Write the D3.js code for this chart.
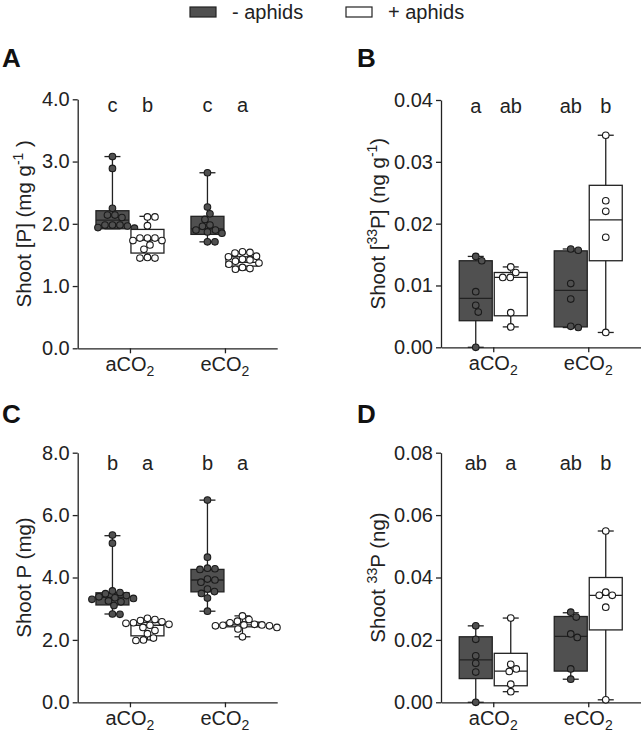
<!DOCTYPE html>
<html><head><meta charset="utf-8">
<script src="https://cdn.jsdelivr.net/npm/d3@7"></script>
<style>body{margin:0;background:#fff} svg{display:block}</style>
</head><body><svg id="c" width="644" height="736"></svg>
<script>
const categories = ["aCO2", "eCO2"];
const treatments = ["- aphids", "+ aphids"];
// group order in each panel: aCO2 -aphids, aCO2 +aphids, eCO2 -aphids, eCO2 +aphids
// box stats: [min, q1, median, q3, max]
const A_box = [[1.92,1.92,2.06,2.21,3.08],[1.45,1.53,1.74,1.91,2.12],[1.71,1.83,1.92,2.12,2.82],[1.26,1.32,1.38,1.47,1.55]];
const A_pts = [
  [3.08,2.89,2.25,2.14,2.14,2.10,1.98,1.98,1.98,1.965,1.94,1.93],
  [2.11,2.11,1.97,1.77,1.77,1.77,1.73,1.73,1.66,1.59,1.46,1.45,1.45],
  [2.82,2.27,2.16,2.07,1.98,1.96,1.90,1.90,1.87,1.85,1.71,1.71],
  [1.55,1.54,1.53,1.48,1.47,1.43,1.42,1.40,1.37,1.35,1.30,1.28,1.27]];
const A_ticks = [0, 1, 2, 3, 4];
const A_letters = ["c", "b", "c", "a"];

const B_box = [[0.0,0.0043,0.0079,0.0140,0.0147],[0.0033,0.0051,0.0113,0.0121,0.0130],[0.0032,0.0033,0.0092,0.0156,0.0159],[0.0024,0.0140,0.0206,0.0262,0.0343]];
const B_pts = [
  [0.0147,0.0140,0.0090,0.0068,0.0057,0.0],
  [0.0130,0.0121,0.0113,0.0113,0.0056,0.0033],
  [0.0159,0.0157,0.0103,0.0078,0.0034,0.0032],
  [0.0343,0.0237,0.0220,0.0178,0.0024]];
const B_ticks = [0, 0.01, 0.02, 0.03, 0.04];
const B_letters = ["a", "ab", "ab", "b"];

const C_box = [[2.83,3.12,3.36,3.51,5.34],[2.00,2.13,2.47,2.56,2.69],[2.92,3.54,3.92,4.26,6.48],[2.10,2.42,2.48,2.57,2.77]];
const C_pts = [
  [5.36,5.10,3.57,3.52,3.48,3.42,3.38,3.35,3.33,3.30,3.25,3.22,3.10,2.83,2.82],
  [2.69,2.65,2.62,2.58,2.55,2.53,2.50,2.47,2.40,2.30,2.20,2.06,2.00,1.98],
  [6.48,4.65,4.30,4.28,4.26,3.95,3.92,3.85,3.63,3.55,3.49,3.34,2.92],
  [2.77,2.65,2.60,2.55,2.50,2.48,2.48,2.47,2.45,2.45,2.40,2.35,2.10]];
const C_ticks = [0, 2, 4, 6, 8];
const C_letters = ["b", "a", "b", "a"];

const D_box = [[0.0,0.0076,0.0136,0.0210,0.0245],[0.0034,0.0053,0.0100,0.0157,0.0270],[0.0074,0.0100,0.0211,0.0275,0.0287],[0.0008,0.0232,0.0343,0.0400,0.0549]];
const D_pts = [
  [0.0245,0.0202,0.0149,0.0125,0.0097,0.0],
  [0.0270,0.0122,0.0107,0.0099,0.0058,0.0034],
  [0.0289,0.0273,0.0219,0.0208,0.0107,0.0074],
  [0.0549,0.0353,0.0343,0.0343,0.0305,0.0008]];
const D_ticks = [0, 0.02, 0.04, 0.06, 0.08];
const D_letters = ["ab", "a", "ab", "b"];

const A_label = [["Shoot [P] (mg g",0],["-1",1],[" )",0]];
const B_label = [["Shoot [",0],["33",1],["P] (ng g",0],["-1",1],[")",0]];
const C_label = [["Shoot P (mg)",0]];
const D_label = [["Shoot ",0],["33",1],["P (ng)",0]];

const FONT = "'Liberation Sans', Arial, Helvetica, sans-serif";
const INK = "#222";
const DARK = "#505050";
const fills = [DARK, "#ffffff"];

const svg = d3.select("#c");

// legend
const leg = svg.append("g");
[[190, 232], [346, 388]].forEach((p, i) => {
  leg.append("rect").attr("x", p[0]).attr("y", 7).attr("width", 26).attr("height", 10)
    .attr("fill", fills[i]).attr("stroke", INK).attr("stroke-width", 1.2);
  leg.append("text").attr("x", p[1]).attr("y", 18.5).attr("font-family", FONT)
    .attr("font-size", 20).attr("fill", INK).text(treatments[i]);
});

const panels = [
  {tag:"A", tx:2,   ty:66.5, x0:77.7, top:99.3,  bot:348.3, box:A_box, pts:A_pts, ticks:A_ticks, fmt:".1f", letters:A_letters, label:A_label, lab:47, letDy:13},
  {tag:"B", tx:357, ty:66.5, x0:441,  top:100,   bot:347.3, box:B_box, pts:B_pts, ticks:B_ticks, fmt:".2f", letters:B_letters, label:B_label, lab:56, letDy:13},
  {tag:"C", tx:2,   ty:423,  x0:77.7, top:452.7, bot:702.3, box:C_box, pts:C_pts, ticks:C_ticks, fmt:".1f", letters:C_letters, label:C_label, lab:47, letDy:17},
  {tag:"D", tx:357, ty:423,  x0:441,  top:452.7, bot:702.3, box:D_box, pts:D_pts, ticks:D_ticks, fmt:".2f", letters:D_letters, label:D_label, lab:56, letDy:17}
];

const R = 3.3, OFF = 17.5, BW = 33, CAP = 8;

function swarm(vals, y, cx) {
  const idx = vals.map((v, i) => i).sort((a, b) => vals[b] - vals[a]);
  const placed = [];
  const minD = 2 * R + 0.6;
  idx.forEach(i => {
    const py = y(vals[i]);
    let chosen = null;
    for (let k = 0; k < 200 && chosen === null; k++) {
      const cands = k === 0 ? [0] : [k * 0.5, -k * 0.5];
      for (const o of cands) {
        const px = cx + o;
        if (placed.every(p => Math.hypot(p.x - px, p.y - py) >= minD)) { chosen = px; break; }
      }
    }
    placed.push({x: chosen, y: py, v: vals[i]});
  });
  return placed;
}

panels.forEach(P => {
  const g = svg.append("g");
  g.append("text").attr("x", P.tx).attr("y", P.ty).attr("font-family", FONT)
    .attr("font-size", 26).attr("font-weight", "bold").attr("fill", "#111").text(P.tag);

  const y = d3.scaleLinear().domain([P.ticks[0], P.ticks[P.ticks.length - 1]]).range([P.bot, P.top]);
  const x = d3.scalePoint().domain(categories).range([P.x0, P.x0 + 199.5]).padding(0.55);

  const ya = g.append("g").attr("transform", `translate(${P.x0},0)`)
    .call(d3.axisLeft(y).tickValues(P.ticks).tickFormat(d3.format(P.fmt)).tickSize(5).tickPadding(3).tickSizeOuter(0));
  const xa = g.append("g").attr("transform", `translate(0,${P.bot})`)
    .call(d3.axisBottom(x).tickSize(5).tickFormat("").tickSizeOuter(0));
  [ya, xa].forEach(a => {
    a.selectAll("path,line").attr("stroke", INK).attr("stroke-width", 1.3);
    a.selectAll("text").attr("font-family", FONT).attr("font-size", 20).attr("fill", INK);
  });

  categories.forEach(c => {
    const t = g.append("text").attr("x", x(c)).attr("y", P.bot + 23).attr("text-anchor", "middle")
      .attr("font-family", FONT).attr("font-size", 20).attr("fill", INK);
    t.append("tspan").text(c.slice(0, -1));
    t.append("tspan").attr("font-size", 14).attr("dy", 5).text(c.slice(-1));
  });

  const cy = (P.top + P.bot) / 2;
  const lt = g.append("text").attr("transform", `translate(${P.x0 - P.lab},${cy}) rotate(-90)`)
    .attr("text-anchor", "middle").attr("font-family", FONT).attr("font-size", 20.5).attr("fill", INK);
  let shifted = false;
  P.label.forEach(([s, sup]) => {
    const ts = lt.append("tspan").text(s);
    if (sup) { ts.attr("font-size", 14).attr("dy", -8); shifted = true; }
    else if (shifted) { ts.attr("dy", 8); shifted = false; }
  });

  P.box.forEach((b, gi) => {
    const cat = categories[Math.floor(gi / 2)];
    const tr = gi % 2;
    const cx = x(cat) + (tr === 0 ? -OFF : OFF);
    const [mn, q1, md, q3, mx] = b;
    const bg = g.append("g");
    bg.append("line").attr("x1", cx).attr("x2", cx).attr("y1", y(mn)).attr("y2", y(mx))
      .attr("stroke", INK).attr("stroke-width", 1.3);
    [mn, mx].forEach(v => bg.append("line").attr("x1", cx - CAP).attr("x2", cx + CAP)
      .attr("y1", y(v)).attr("y2", y(v)).attr("stroke", INK).attr("stroke-width", 1.3));
    bg.append("rect").attr("x", cx - BW / 2).attr("width", BW).attr("y", y(q3)).attr("height", y(q1) - y(q3))
      .attr("fill", fills[tr]).attr("stroke", INK).attr("stroke-width", 1.3);
    bg.append("line").attr("x1", cx - BW / 2).attr("x2", cx + BW / 2).attr("y1", y(md)).attr("y2", y(md))
      .attr("stroke", INK).attr("stroke-width", 1.3);

    const pts = swarm(P.pts[gi], y, cx);
    bg.selectAll("circle").data(pts).join("circle")
      .attr("cx", d => d.x).attr("cy", d => d.y).attr("r", R)
      .attr("fill", fills[tr]).attr("stroke", "#1a1a1a").attr("stroke-width", 1.1);

    g.append("text").attr("x", cx).attr("y", P.top + P.letDy).attr("text-anchor", "middle")
      .attr("font-family", FONT).attr("font-size", 20).attr("fill", INK).text(P.letters[gi]);
  });
});
</script></body></html>
